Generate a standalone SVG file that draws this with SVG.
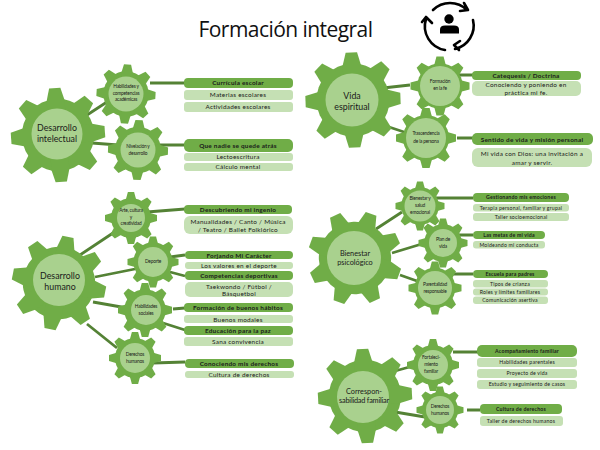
<svg xmlns="http://www.w3.org/2000/svg" xmlns:xlink="http://www.w3.org/1999/xlink" width="600" height="450" viewBox="0 0 600 450">
<style>
.gear{fill:#70ad47}
.hub{fill:#a9d18e}
.lnk{stroke:#548235;stroke-width:2.800;fill:none}
.dk{fill:#70ad47}
.lt{fill:#c5e0b4}
text{font-family:"Lato","Liberation Sans",sans-serif;fill:#1a1a1a;text-anchor:middle}
.t{font-family:"Open Sans","Liberation Sans",sans-serif;font-size:21px;letter-spacing:-.55px;fill:#111}
.big{font-size:8.800px}
.big2{font-size:7.300px}
.mid{font-size:4.800px;letter-spacing:-.2px}
.s{font-size:6.400px;letter-spacing:.25px}
.b{font-weight:700;font-size:6.400px;letter-spacing:.25px}
.x{font-size:5.200px;letter-spacing:.2px}
.xb{font-size:5.200px;font-weight:700;letter-spacing:.2px}
.ic{stroke:#000;stroke-width:2.600;fill:none;stroke-linecap:round;stroke-linejoin:round}
</style>
<defs>
<!-- eight-tooth cog, radius 100 -->
<g id="cog" class="gear">
<circle r="77"/>
<path id="pair" d="M-19-74-12-100H12L19-74V74L12 100H-12L-19 74Z"/>
<use xlink:href="#pair" href="#pair" transform="rotate(45)"/>
<use xlink:href="#pair" href="#pair" transform="rotate(90)"/>
<use xlink:href="#pair" href="#pair" transform="rotate(135)"/>
</g>
</defs>

<text class="t" x="285.500" y="37">Formación integral</text>

<g id="icono">
<path class="ic" d="M433 10A24 24 0 0 1 467 10M464 3 468 10 460 11"/>
<path class="ic" d="M473 20A24 24 0 0 1 455 49M460 41 454 45 459 50"/>
<path class="ic" d="M445 50A24 24 0 0 1 426 19M422 22 426 17 432 23"/>
<circle cx="449" cy="19" r="4.700"/>
<path d="M440 33.500V29.500Q440 25.500 445 25.500H454Q459 25.500 459 29.500V33.500Z"/>
</g>

<g id="conectores" class="lnk">
<path d="M87 115 110 100M92 143 118 145M150 83H185M160 145H185"/>
<path d="M383 88 410 85M383 125 410 134M457 75H473M457 138H473"/>
<path d="M80 255 113 233M95 277 135 269M93 302 127 308M87 324 117 348M147 212 185 209M170 257 185 255M170 272 185 276M173 309 185 308M163 323 185 330M153 363 185 362"/>
<path d="M376 229 402 212M392 253 425 243M400 275 417 281M433 198H473M458 235H473M453 274H473"/>
<path d="M395 371 413 366M395 412 425 417M453 352H478M467 410H480"/>
</g>

<g id="desarrollo-intelectual"><use xlink:href="#cog" href="#cog" transform="translate(58 135) rotate(-4) scale(.47)"/><circle class="hub" cx="57" cy="134" r="25.500"/><text class="big" x="57" y="131">Desarrollo</text><text class="big" x="57" y="142">intelectual</text></g>
<g id="habilidades-academicas"><use xlink:href="#cog" href="#cog" transform="translate(126 94) rotate(3) scale(.295)"/><circle class="hub" cx="126" cy="94" r="17.500"/><text class="mid" x="126" y="88">Habilidades y</text><text class="mid" x="126" y="95">competencias</text><text class="mid" x="126" y="101">académicas</text></g>
<g id="nivelacion"><use xlink:href="#cog" href="#cog" transform="translate(138 150) rotate(2) scale(.3)"/><circle class="hub" cx="138" cy="150" r="17.500"/><text class="mid" x="138" y="148">Nivelación y</text><text class="mid" x="138" y="155">desarrollo</text></g>

<g id="vida-espiritual"><use xlink:href="#cog" href="#cog" transform="translate(353 100) rotate(-2) scale(.475)"/><circle class="hub" cx="352" cy="100" r="26.500"/><text class="big" x="352" y="99">Vida</text><text class="big" x="352" y="110">espiritual</text></g>
<g id="formacion-fe"><use xlink:href="#cog" href="#cog" transform="translate(440 86) rotate(0) scale(.295)"/><circle class="hub" cx="440" cy="86" r="20"/><text class="mid" x="440" y="83">Formación</text><text class="mid" x="440" y="90">en la fe</text></g>
<g id="trascendencia"><use xlink:href="#cog" href="#cog" transform="translate(426 138) rotate(0) scale(.3)"/><circle class="hub" cx="426" cy="138" r="20"/><text class="mid" x="426" y="135">Trascendencia</text><text class="mid" x="426" y="143">de la persona</text></g>

<g id="desarrollo-humano"><use xlink:href="#cog" href="#cog" transform="translate(59 283) rotate(11) scale(.47)"/><circle class="hub" cx="59" cy="280" r="26"/><text class="big" x="60" y="279">Desarrollo</text><text class="big" x="60" y="290">humano</text></g>
<g id="arte-cultura"><use xlink:href="#cog" href="#cog" transform="translate(131 218) rotate(0) scale(.26)"/><circle class="hub" cx="131" cy="218" r="14"/><text class="mid" x="131" y="212">Arte, cultura</text><text class="mid" x="131" y="219">y</text><text class="mid" x="131" y="225">creatividad</text></g>
<g id="deporte"><use xlink:href="#cog" href="#cog" transform="translate(153 262) rotate(0) scale(.255)"/><circle class="hub" cx="153" cy="262" r="15"/><text class="mid" x="153" y="263">Deporte</text></g>
<g id="habilidades-sociales"><use xlink:href="#cog" href="#cog" transform="translate(145 310) rotate(0) scale(.27)"/><circle class="hub" cx="146" cy="310" r="15"/><text class="mid" x="146" y="308">Habilidades</text><text class="mid" x="146" y="315">sociales</text></g>
<g id="derechos-humanos"><use xlink:href="#cog" href="#cog" transform="translate(135 358) rotate(0) scale(.26)"/><circle class="hub" cx="135" cy="358" r="15"/><text class="mid" x="135" y="356">Derechos</text><text class="mid" x="135" y="363">humanos</text></g>

<g id="bienestar-psicologico"><use xlink:href="#cog" href="#cog" transform="translate(355 258) rotate(20) scale(.47)"/><circle class="hub" cx="354" cy="258" r="27"/><text class="big2" x="355" y="256">Bienestar</text><text class="big2" x="355" y="265">psicológico</text></g>
<g id="bienestar-salud"><use xlink:href="#cog" href="#cog" transform="translate(420 206) rotate(0) scale(.245)"/><circle class="hub" cx="420" cy="206" r="15.500"/><text class="mid" x="420" y="200">Bienestar y</text><text class="mid" x="420" y="207">salud</text><text class="mid" x="420" y="214">emocional</text></g>
<g id="plan-vida"><use xlink:href="#cog" href="#cog" transform="translate(443 243) rotate(0) scale(.245)"/><circle class="hub" cx="443" cy="243" r="14"/><text class="mid" x="443" y="241">Plan de</text><text class="mid" x="443" y="248">vida</text></g>
<g id="parentalidad"><use xlink:href="#cog" href="#cog" transform="translate(435 288) rotate(0) scale(.265)"/><circle class="hub" cx="435" cy="288" r="17"/><text class="mid" x="435" y="286">Parentalidad</text><text class="mid" x="435" y="293">responsable</text></g>

<g id="corresponsabilidad"><use xlink:href="#cog" href="#cog" transform="translate(365 396) rotate(-3) scale(.47)"/><circle class="hub" cx="363" cy="397" r="26"/><text class="big2" x="364" y="394">Correspon-</text><text class="big2" x="364" y="402.500" letter-spacing="-.2">sabilidad familiar</text></g>
<g id="fortalecimiento"><use xlink:href="#cog" href="#cog" transform="translate(433 365) rotate(0) scale(.26)"/><circle class="hub" cx="433" cy="365" r="15"/><text class="mid" x="431" y="359">Fortaleci-</text><text class="mid" x="431" y="366">miento</text><text class="mid" x="431" y="373">familiar</text></g>
<g id="derechos-humanos-familia"><use xlink:href="#cog" href="#cog" transform="translate(440 410) rotate(0) scale(.235)"/><circle class="hub" cx="440" cy="410" r="14"/><text class="mid" x="440" y="408">Derechos</text><text class="mid" x="440" y="415">humanos</text></g>

<g id="b-curricula"><rect class="dk" x="184" y="78" width="109" height="10" rx="4"/><text class="b" x="238" y="85.300">Currícula escolar</text></g>
<g id="b-materias"><rect class="lt" x="184" y="90" width="109" height="10" rx="3"/><text class="s" x="238" y="97.300">Materias escolares</text></g>
<g id="b-actividades"><rect class="lt" x="184" y="102" width="109" height="10" rx="3"/><text class="s" x="238" y="109.300">Actividades escolares</text></g>
<g id="b-nadie"><rect class="dk" x="184" y="139" width="109" height="13" rx="5"/><text class="b" x="238" y="147.500">Que nadie se quede atrás</text></g>
<g id="b-lecto"><rect class="lt" x="184" y="153" width="109" height="8" rx="3"/><text class="s" x="238" y="159.300">Lectoescritura</text></g>
<g id="b-calculo"><rect class="lt" x="184" y="163" width="109" height="8" rx="3"/><text class="s" x="238" y="169.300">Cálculo mental</text></g>

<g id="b-catequesis"><rect class="dk" x="472" y="71" width="109" height="9" rx="4"/><text class="b" x="526" y="77.500">Catequesis / Doctrina</text></g>
<g id="b-conociendo-fe"><rect class="lt" x="472" y="81" width="109" height="15" rx="5"/><text class="s" x="526" y="86.500">Conociendo y poniendo en</text><text class="s" x="526" y="94.500">práctica mi fe.</text></g>
<g id="b-sentido"><rect class="dk" x="472" y="133" width="121" height="12" rx="5"/><text class="b" x="532" y="141.500">Sentido de vida y misión personal</text></g>
<g id="b-mivida"><rect class="lt" x="472" y="148" width="120" height="19" rx="6"/><text class="s" x="532" y="156">Mi vida con Dios: una invitación a</text><text class="s" x="532" y="164.500">amar y servir.</text></g>

<g id="b-ingenio"><rect class="dk" x="184" y="205" width="108" height="9" rx="4"/><text class="b" x="238" y="211.800">Descubriendo mi ingenio</text></g>
<g id="b-manualidades"><rect class="lt" x="184" y="216" width="109" height="18" rx="6"/><text class="s" x="238" y="223.500">Manualidades / Canto / Música</text><text class="s" x="238" y="231.500">/ Teatro / Ballet Folklórico</text></g>
<g id="b-forjando"><rect class="dk" x="185" y="251" width="108" height="8" rx="4"/><text class="b" x="239" y="257.500">Forjando Mi Carácter</text></g>
<g id="b-valores"><rect class="lt" x="185" y="262" width="108" height="7" rx="3"/><text class="s" x="239" y="268">Los valores en el deporte</text></g>
<g id="b-competencias"><rect class="dk" x="185" y="271" width="108" height="9" rx="4"/><text class="b" x="239" y="277.800">Competencias deportivas</text></g>
<g id="b-taekwondo"><rect class="lt" x="185" y="282" width="108" height="15" rx="5"/><text class="s" x="239" y="288.500">Taekwondo / Fútbol /</text><text class="s" x="239" y="295.500">Básquetbol</text></g>
<g id="b-formacion"><rect class="dk" x="184" y="303" width="109" height="9" rx="4"/><text class="b" x="238" y="309.800">Formación de buenos hábitos</text></g>
<g id="b-modales"><rect class="lt" x="184" y="315" width="109" height="8" rx="3"/><text class="s" x="238" y="321.500">Buenos modales</text></g>
<g id="b-educacion"><rect class="dk" x="184" y="326" width="109" height="9" rx="4"/><text class="b" x="238" y="332.800">Educación para la paz</text></g>
<g id="b-sana"><rect class="lt" x="184" y="337" width="109" height="9" rx="3"/><text class="s" x="238" y="343.800">Sana convivencia</text></g>
<g id="b-conociendo-der"><rect class="dk" x="185" y="359" width="109" height="9" rx="4"/><text class="b" x="239" y="365.800">Conociendo mis derechos</text></g>
<g id="b-cultura"><rect class="lt" x="185" y="371" width="109" height="7" rx="3"/><text class="s" x="239" y="376.800">Cultura de derechos</text></g>

<g id="b-gestionando"><rect class="dk" x="473" y="193" width="96" height="9" rx="4"/><text class="xb" x="521" y="199.300">Gestionando mis emociones</text></g>
<g id="b-terapia"><rect class="lt" x="473" y="204" width="96" height="7.500" rx="3"/><text class="x" x="521" y="209.500">Terapia personal, familiar y grupal</text></g>
<g id="b-taller"><rect class="lt" x="473" y="213" width="96" height="8" rx="3"/><text class="x" x="521" y="218.800">Taller socioemocional</text></g>
<g id="b-metas"><rect class="dk" x="473" y="231" width="72" height="8" rx="4"/><text class="xb" x="509" y="237">Las metas de mi vida</text></g>
<g id="b-moldeando"><rect class="lt" x="473" y="241" width="72" height="7.500" rx="3"/><text class="x" x="509" y="246.700">Moldeando mi conducta</text></g>
<g id="b-escuela"><rect class="dk" x="473" y="270" width="75" height="8" rx="4"/><text class="xb" x="510" y="276">Escuela para padres</text></g>
<g id="b-tipos"><rect class="lt" x="473" y="280" width="75" height="7.500" rx="3"/><text class="x" x="510" y="285.800">Tipos de crianza</text></g>
<g id="b-roles"><rect class="lt" x="473" y="288.500" width="75" height="7" rx="3"/><text class="x" x="510" y="293.800">Roles y límites familiares</text></g>
<g id="b-comunicacion"><rect class="lt" x="473" y="296.500" width="75" height="7.500" rx="3"/><text class="x" x="510" y="302.200">Comunicación asertiva</text></g>

<g id="b-acompanamiento"><rect class="dk" x="477" y="345" width="100" height="12" rx="5"/><text class="xb" x="527" y="352.800">Acompañamiento familiar</text></g>
<g id="b-parentales"><rect class="lt" x="477" y="358" width="100" height="9" rx="3"/><text class="x" x="527" y="364.300">Habilidades parentales</text></g>
<g id="b-proyecto"><rect class="lt" x="477" y="369" width="100" height="9" rx="3"/><text class="x" x="527" y="375.300">Proyecto de vida</text></g>
<g id="b-estudio"><rect class="lt" x="477" y="380" width="100" height="9" rx="3"/><text class="x" x="527" y="386.300">Estudio y seguimiento de casos</text></g>
<g id="b-cultura-familia"><rect class="dk" x="480" y="404" width="82" height="10" rx="4"/><text class="xb" x="521" y="411">Cultura de derechos</text></g>
<g id="b-taller-der"><rect class="lt" x="480" y="416" width="83" height="10" rx="3"/><text class="x" x="521" y="422.800">Taller de derechos humanos</text></g>
</svg>
